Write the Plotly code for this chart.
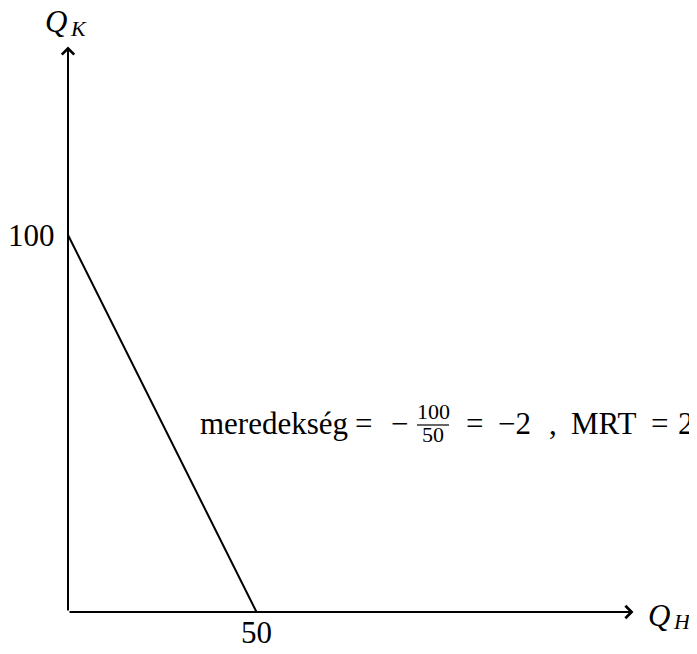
import plotly.graph_objects as go

# data
line_x = [0, 50]
line_y = [100, 0]
x_tick_vals = [50]
x_tick_text = ["50"]
y_tick_vals = [100]
y_tick_text = ["100"]
axis_max = 150
label_pos = [100, 50]
y_label = ("Q", "K")
x_label = ("Q", "H")
frac_num = "100"
frac_den = "50"

K = 3.77          # px per unit
OFF = 8           # page body margin
X0, Y0 = 68 - OFF, 612 - OFF
W, H = 697 - OFF, 654 - OFF
FONT = "Liberation Serif, DejaVu Serif, serif"
FS = 31

fig = go.Figure()
fig.add_trace(go.Scatter(x=line_x, y=line_y, mode="lines",
                         line=dict(color="black", width=2), hoverinfo="skip", showlegend=False))

# axes with arrows
arrow = dict(xref="x", yref="y", axref="x", ayref="y", showarrow=True, arrowhead=4,
             arrowsize=1.2, arrowwidth=2, arrowcolor="black", text="")
fig.add_annotation(x=axis_max, y=0, ax=0, ay=0, **arrow)
fig.add_annotation(x=0, y=axis_max, ax=0, ay=0, **arrow)

font = dict(family=FONT, size=FS, color="black")
small = dict(family=FONT, size=22, color="black")
# axis labels (main letter + subscript as separate texts)
fig.add_annotation(x=0, y=axis_max, text="<i>%s</i>" % y_label[0], showarrow=False,
                   xanchor="center", yanchor="middle", xshift=-12, yshift=25, font=font)
fig.add_annotation(x=0, y=axis_max, text="<i>%s</i>" % y_label[1], showarrow=False,
                   xanchor="center", yanchor="middle", xshift=10, yshift=18, font=small)
fig.add_annotation(x=axis_max, y=0, text="<i>%s</i>" % x_label[0], showarrow=False,
                   xanchor="center", yanchor="middle", xshift=25, yshift=-3, font=font)
fig.add_annotation(x=axis_max, y=0, text="<i>%s</i>" % x_label[1], showarrow=False,
                   xanchor="center", yanchor="middle", xshift=48, yshift=-9, font=small)
# tick labels
for v, t in zip(x_tick_vals, x_tick_text):
    fig.add_annotation(x=v, y=0, text=t, showarrow=False, xanchor="center", yanchor="top",
                       yshift=-1, font=font)
for v, t in zip(y_tick_vals, y_tick_text):
    fig.add_annotation(x=0, y=v, text=t, showarrow=False, xanchor="right", yanchor="middle",
                       xshift=-11, yshift=0, font=font)

# slope text, assembled piece by piece around label_pos
lx, ly = label_pos
pieces = [
    ("meredekség", "right", -95),
    ("=", "center", -82),
    ("−", "center", -46),
    ("=", "center", 29),
    ("−2", "left", 51),
    (",", "left", 102),
    ("MRT", "center", 158),
    ("=", "center", 214),
    ("2", "right", 251),
]
for txt, anc, dx in pieces:
    fig.add_annotation(x=lx, y=ly, text=txt, showarrow=False, xanchor=anc,
                       yanchor="middle", xshift=dx, yshift=0, font=font)
fig.add_annotation(x=lx, y=ly, text=frac_num, showarrow=False, xanchor="center",
                   yanchor="middle", xshift=-12, yshift=12, font=small)
fig.add_annotation(x=lx, y=ly, text=frac_den, showarrow=False, xanchor="center",
                   yanchor="middle", xshift=-12, yshift=-11, font=small)
fig.add_shape(type="line", x0=lx - 28 / K, x1=lx + 4 / K, y0=ly - 1.5 / K, y1=ly - 1.5 / K,
              line=dict(color="black", width=1.2))

fig.update_layout(
    width=W, height=H, margin=dict(l=0, r=0, t=0, b=0),
    paper_bgcolor="white", plot_bgcolor="white",
    xaxis=dict(range=[-X0 / K, (W - X0) / K], visible=False, fixedrange=True),
    yaxis=dict(range=[-(H - Y0) / K, Y0 / K], visible=False, fixedrange=True),
    showlegend=False,
)
fig.write_html("out.html")
